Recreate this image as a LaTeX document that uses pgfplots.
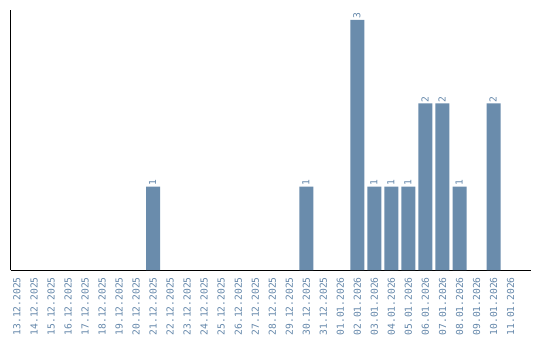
\documentclass[border=0pt]{standalone}
\usepackage{pgfplots}
\pgfplotsset{compat=1.18}
\usepackage{fontspec}
\setmonofont{DejaVu Sans Mono}
\definecolor{barc}{RGB}{106,140,172}
\definecolor{labc}{RGB}{100,135,170}
\begin{document}
\begin{tikzpicture}
\path[use as bounding box] (-10.5bp,-70bp) rectangle (529.5bp,270bp);
\begin{axis}[
  at={(0,0)}, anchor=south west,
  scale only axis, width=520.5bp, height=260bp,
  xmin=-0.38, xmax=30.2, ymin=0, ymax=3.12,
  axis x line*=bottom, axis y line*=left,
  axis line style={-, line width=1bp, black},
  ytick=\empty,
  xtick={0,...,29},
  major tick length=0pt,
  xticklabels={13.12.2025,14.12.2025,15.12.2025,16.12.2025,17.12.2025,18.12.2025,19.12.2025,20.12.2025,21.12.2025,22.12.2025,23.12.2025,24.12.2025,25.12.2025,26.12.2025,27.12.2025,28.12.2025,29.12.2025,30.12.2025,31.12.2025,01.01.2026,02.01.2026,03.01.2026,04.01.2026,05.01.2026,06.01.2026,07.01.2026,08.01.2026,09.01.2026,10.01.2026,11.01.2026},
  xticklabel style={rotate=90, anchor=east, font=\ttfamily\fontsize{9.7}{9.7}\selectfont, text=labc, inner sep=1bp, yshift=0bp, xshift=-6bp},
  /pgf/number format/assume math mode=true,
  ybar, bar width=14bp,
  nodes near coords,
  every node near coord/.append style={rotate=90, anchor=west, font=\ttfamily\fontsize{9.7}{9.7}\selectfont, text=labc, inner sep=1bp, yshift=0.5bp},
]
\addplot[fill=barc, draw=none] coordinates {
(8,1) (17,1) (20,3) (21,1) (22,1) (23,1) (24,2) (25,2) (26,1) (28,2)
};
\end{axis}
\end{tikzpicture}
\end{document}
